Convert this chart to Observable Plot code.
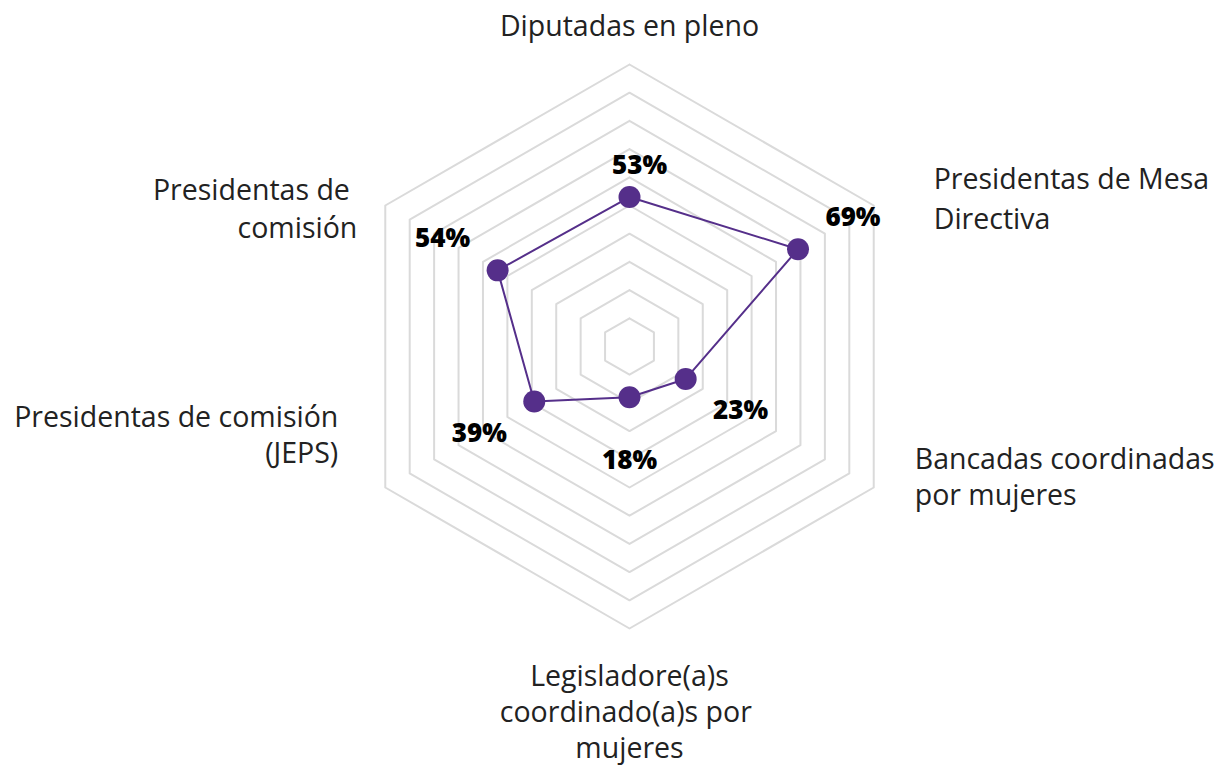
<!DOCTYPE html>
<html><head><meta charset="utf-8">
<script src="https://cdn.jsdelivr.net/npm/d3@7"></script>
<script src="https://cdn.jsdelivr.net/npm/@observablehq/plot@0.6"></script>
<style>
html,body{margin:0;padding:0;background:#fff;}
#chart svg{display:block;}
</style></head><body><div id="chart"></div>
<script>
// ---- data ----
const categories = ["Diputadas en pleno", "Presidentas de Mesa Directiva", "Bancadas coordinadas por mujeres", "Legisladore(a)s coordinado(a)s por mujeres", "Presidentas de comisión (JEPS)", "Presidentas de comisión"];
const categoryLabels = ["Diputadas en pleno", "Presidentas de Mesa\nDirectiva", "Bancadas coordinadas\npor mujeres", "Legisladore(a)s\ncoordinado(a)s por\u00a0\nmujeres", "Presidentas de comisión\n(JEPS)", "Presidentas de\u00a0\ncomisión"];
const values = [53, 69, 23, 18, 39, 54];
const gridLevels = [10, 20, 30, 40, 50, 60, 70, 80, 90, 100];

// ---- layout ----
const W = 1219, H = 766, cx = 629, cy = 346, k = 2.82; // px per unit
const n = categories.length;
const ang = i => (i * 2 * Math.PI) / n;
const px = (r, i) => r * Math.sin(ang(i));
const py = (r, i) => r * Math.cos(ang(i));

const grid = gridLevels.flatMap(l => d3.range(n + 1).map(j => ({level: l, x: px(l, j % n), y: py(l, j % n)})));
const pts = values.map((v, i) => ({cat: categories[i], v, x: px(v, i), y: py(v, i)}));
const ring = [...pts, pts[0]];
const valLabels = values.map((v, i) => {
  const r = v + (i === 0 ? 11 : 22.5);
  return {text: v + "%", x: px(r, i) + (i === 0 ? 10 / k : 0), y: py(r, i), i};
});

const FONT = "'Open Sans'";
const FS = 28.5;
// label anchoring relative to the outer vertex of each axis
const labelStyle = [
  {textAnchor: "middle", dx: 0, dy: -40, lineHeight: 1.3},
  {textAnchor: "start", dx: 60, dy: -9, lineHeight: 1.38},
  {textAnchor: "start", dx: 41, dy: -12, lineHeight: 1.27},
  {textAnchor: "middle", dx: 0, dy: 82, lineHeight: 1.27},
  {textAnchor: "end", dx: -47, dy: -54, lineHeight: 1.28},
  {textAnchor: "end", dx: -28, dy: 1, lineHeight: 1.36}
];
const axisLabelMarks = categoryLabels.map((t, i) =>
  Plot.text([{t, x: px(100, i), y: py(100, i)}], {
    x: "x", y: "y", text: "t", lineAnchor: "middle",
    fontSize: FS, fill: "#222", fontFamily: FONT, ...labelStyle[i]
  })
);

const chart = Plot.plot({
  width: W, height: H,
  margin: 0,
  x: {type: "linear", domain: [-cx / k, (W - cx) / k], range: [0, W], axis: null},
  y: {type: "linear", domain: [-(H - cy) / k, cy / k], range: [H, 0], axis: null},
  style: {background: "#fff", fontFamily: FONT},
  marks: [
    Plot.line(grid, {x: "x", y: "y", z: "level", stroke: "#dadada", strokeWidth: 2}),
    Plot.line(ring, {x: "x", y: "y", stroke: "#552f8a", strokeWidth: 2}),
    Plot.dot(pts, {x: "x", y: "y", r: 11, fill: "#552f8a", stroke: "none"}),
    Plot.text(valLabels, {x: "x", y: "y", text: "text", fontSize: 26, fontWeight: 800, fill: "#000", fontFamily: FONT}),
    ...axisLabelMarks
  ]
});
document.getElementById("chart").appendChild(chart);
</script></body></html>
